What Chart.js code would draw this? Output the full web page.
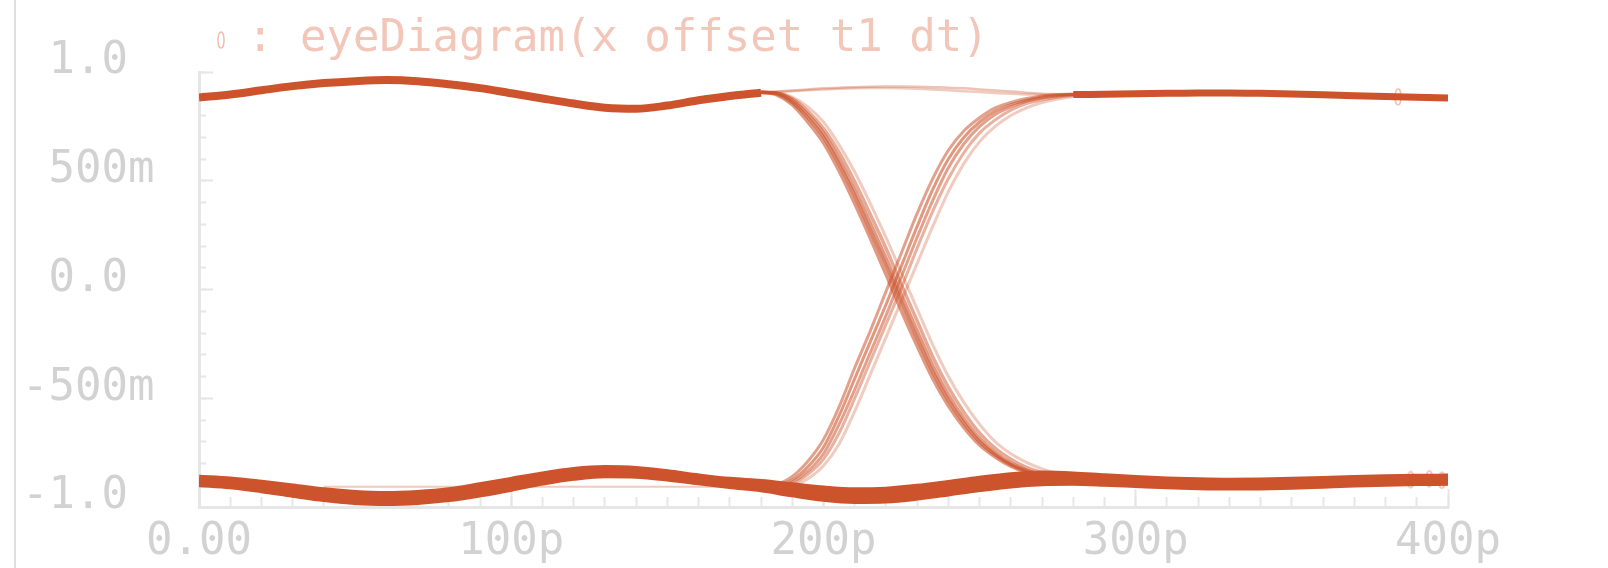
<!DOCTYPE html>
<html>
<head>
<meta charset="utf-8">
<script src="https://cdn.jsdelivr.net/npm/chart.js@4.4.1/dist/chart.umd.min.js"></script>
<style>
  html, body { margin: 0; padding: 0; background: #ffffff; }
  #wrap { position: relative; width: 1608px; height: 568px; overflow: hidden; }
  #frame { position: absolute; left: 14px; top: 0; width: 2px; height: 568px; background: #dedede; }
  #eye { position: absolute; left: 0; top: 0; }
</style>
</head>
<body>
<div id="wrap"><div id="frame"></div><canvas id="eye" width="1608" height="568"></canvas></div>
<script>
// ---- time bases (ps) ----
const bandTimes = [0,10,20,30,40,50,60,70,80,90,100,110,120,130,140,150,160,170,180,190,200,
                   210,220,230,240,250,260,270,280,290,300,310,320,330,340,350,360,370,380,390,400];
const leadTimes = [0,10,20,30,40,50,60,70,80,90,100,110,120,130,140,150,160,170,180];
const edgeTimes = [180,185,190,195,200,205,210,215,220,225,230,235,240,245,250,255,260,265,270,275,280,285,290];
const tailTimes = [280,290,300,310,320,330,340,350,360,370,380,390,400];
const flatTimes = [40, 200];
const markerTimes = [384, 388, 394, 398];

// ---- high level before / after the crossing (V) ----
const highLead = [0.883,0.897,0.916,0.935,0.949,0.958,0.963,0.958,0.944,0.926,0.902,0.878,0.855,0.836,0.831,0.846,0.87,0.89,0.905];
const highTail = [0.896,0.898,0.9,0.902,0.904,0.904,0.902,0.899,0.895,0.891,0.887,0.884,0.881];

// ---- low level band, upper and lower edge (V) ----
const lowUpper = [-0.872,-0.88,-0.895,-0.912,-0.93,-0.942,-0.947,-0.942,-0.93,-0.907,-0.882,-0.857,-0.837,-0.828,-0.832,-0.847,-0.866,-0.882,-0.892,-0.907,-0.922,
                  -0.93,-0.927,-0.914,-0.896,-0.877,-0.861,-0.853,-0.857,-0.866,-0.874,-0.88,-0.884,-0.886,-0.885,-0.882,-0.878,-0.874,-0.87,-0.868,-0.867];
const lowLower = [-0.888,-0.898,-0.916,-0.937,-0.957,-0.97,-0.975,-0.97,-0.957,-0.935,-0.909,-0.881,-0.859,-0.847,-0.849,-0.862,-0.88,-0.897,-0.912,-0.935,-0.955,
                  -0.965,-0.963,-0.95,-0.931,-0.911,-0.894,-0.884,-0.882,-0.886,-0.892,-0.898,-0.902,-0.904,-0.903,-0.9,-0.895,-0.89,-0.886,-0.883,-0.882];
const lowFlat = [-0.907, -0.907];

// ---- rising edges (V) ----
const rise1 = [-0.9,-0.895,-0.86,-0.79,-0.69,-0.54,-0.36,-0.19,-0.01,0.17,0.35,0.51,0.64,0.73,0.79,0.835,0.86,0.878,0.89,0.896,0.899,0.9,0.9];
const rise2 = [-0.9,-0.9,-0.875,-0.815,-0.725,-0.58,-0.41,-0.24,-0.07,0.11,0.29,0.46,0.6,0.7,0.77,0.82,0.85,0.87,0.885,0.893,0.897,0.899,0.9];
const rise3 = [-0.9,-0.905,-0.885,-0.835,-0.755,-0.62,-0.46,-0.29,-0.12,0.06,0.24,0.41,0.56,0.67,0.75,0.805,0.84,0.865,0.88,0.89,0.896,0.899,0.9];
const rise4 = [-0.905,-0.91,-0.895,-0.85,-0.78,-0.66,-0.5,-0.33,-0.16,0.01,0.19,0.36,0.51,0.63,0.72,0.78,0.825,0.855,0.872,0.884,0.892,0.897,0.9];
const rise5 = [-0.91,-0.915,-0.905,-0.87,-0.81,-0.71,-0.56,-0.39,-0.22,-0.05,0.12,0.29,0.45,0.58,0.68,0.75,0.8,0.835,0.86,0.876,0.887,0.894,0.898];

// ---- falling edges (V) ----
const fall1 = [0.907,0.895,0.85,0.77,0.675,0.545,0.395,0.235,0.07,-0.1,-0.26,-0.41,-0.535,-0.635,-0.715,-0.77,-0.812,-0.84,-0.856,-0.867,-0.873,-0.876,-0.878];
const fall2 = [0.907,0.9,0.86,0.79,0.7,0.575,0.43,0.27,0.11,-0.06,-0.225,-0.38,-0.51,-0.615,-0.7,-0.76,-0.805,-0.835,-0.853,-0.865,-0.872,-0.876,-0.878];
const fall3 = [0.907,0.902,0.87,0.805,0.72,0.6,0.46,0.305,0.145,-0.025,-0.19,-0.35,-0.485,-0.595,-0.685,-0.75,-0.798,-0.83,-0.85,-0.862,-0.87,-0.875,-0.878];
const fall4 = [0.907,0.904,0.877,0.82,0.74,0.63,0.495,0.345,0.19,0.02,-0.145,-0.31,-0.45,-0.565,-0.66,-0.73,-0.78,-0.818,-0.842,-0.857,-0.866,-0.872,-0.876];
const fall5 = [0.907,0.905,0.885,0.84,0.77,0.665,0.54,0.395,0.24,0.075,-0.09,-0.255,-0.4,-0.52,-0.62,-0.7,-0.755,-0.795,-0.825,-0.845,-0.858,-0.866,-0.872];

// ---- high bits that stay high across the crossing (V) ----
const hold1 = [0.905,0.91,0.915,0.92,0.925,0.928,0.93,0.932,0.933,0.933,0.932,0.93,0.928,0.925,0.92,0.915,0.91,0.905,0.9,0.898,0.896,0.895,0.895];
const hold2 = [0.905,0.908,0.912,0.916,0.92,0.923,0.925,0.926,0.926,0.925,0.923,0.92,0.916,0.912,0.908,0.903,0.9,0.897,0.895,0.894,0.894,0.894,0.895];

// ---- trace symbols near the end of the window (V) ----
const markerValues = [0.886, -0.874, -0.87, -0.877];

// ---- axis labels ----
const xTickLabels = ['0.00', '100p', '200p', '300p', '400p'];
const yTickLabels = ['-1.0', '-500m', ' 0.0', ' 500m', ' 1.0'];
const legendText = ': eyeDiagram(x offset t1 dt)';

const FONT = "'DejaVu Sans Mono', 'Liberation Mono', monospace";
const TRACE = 'rgb(204,83,44)';
const traceA = a => `rgba(204,83,44,${a})`;
const AXIS_GREY = '#e6e6e6';
const LABEL_GREY = '#d2d2d2';
const LEGEND_PINK = '#f2c6b9';

// small oval symbol used for the trace marker
const markerImg = document.createElement('canvas');
markerImg.width = 10; markerImg.height = 20;
(() => {
  const m = markerImg.getContext('2d');
  m.strokeStyle = '#efbcad';
  m.lineWidth = 1.4;
  m.beginPath();
  m.ellipse(5, 10, 3, 8, 0, 0, Math.PI * 2);
  m.stroke();
})();

const pts = (times, vals) => vals.map((v, i) => ({ x: times[i], y: v }));
const line = (times, vals, color, width) => ({
  data: pts(times, vals),
  borderColor: color,
  borderWidth: width,
  pointRadius: 0,
  cubicInterpolationMode: 'monotone',
  fill: false,
  borderCapStyle: 'butt',
  borderJoinStyle: 'round'
});

const datasets = [
  Object.assign(line(leadTimes, highLead, TRACE, 8), { label: 'eyeDiagram(x offset t1 dt)' }),
  line(tailTimes, highTail, TRACE, 7),
  line(bandTimes, lowUpper, TRACE, 9),
  line(bandTimes, lowLower, TRACE, 9),
  line(flatTimes, lowFlat, traceA(0.3), 2),
  line(edgeTimes, hold1, traceA(0.35), 2.5),
  line(edgeTimes, hold2, traceA(0.3), 2.5),
  line(edgeTimes, rise1, traceA(0.55), 3),
  line(edgeTimes, rise2, traceA(0.6), 3),
  line(edgeTimes, rise3, traceA(0.55), 3),
  line(edgeTimes, rise4, traceA(0.45), 3),
  line(edgeTimes, rise5, traceA(0.3), 3),
  line(edgeTimes, fall1, traceA(0.6), 3.5),
  line(edgeTimes, fall2, traceA(0.7), 3.5),
  line(edgeTimes, fall3, traceA(0.6), 3.5),
  line(edgeTimes, fall4, traceA(0.5), 3.5),
  line(edgeTimes, fall5, traceA(0.3), 3),
  {
    data: pts(markerTimes, markerValues),
    showLine: false,
    pointStyle: markerImg,
    pointRadius: 6,
    borderWidth: 0
  }
];

// move the legend entry over the plot's left edge
const legendShift = {
  id: 'legendShift',
  afterLayout(chart) {
    if (chart.legend) chart.legend.left = 199;
  }
};

new Chart(document.getElementById('eye'), {
  type: 'line',
  data: { datasets },
  plugins: [legendShift],
  options: {
    responsive: false,
    animation: false,
    events: [],
    layout: { padding: { left: 22, right: 160, top: 0, bottom: 0 } },
    plugins: {
      tooltip: { enabled: false },
      legend: {
        display: true,
        position: 'top',
        align: 'start',
        labels: {
          usePointStyle: true,
          pointStyleWidth: 8,
          padding: 18,
          color: LEGEND_PINK,
          font: { family: FONT, size: 44 },
          generateLabels: () => [{
            text: legendText,
            pointStyle: markerImg,
            fontColor: LEGEND_PINK,
            fillStyle: 'rgba(0,0,0,0)',
            strokeStyle: 'rgba(0,0,0,0)',
            lineWidth: 0,
            hidden: false,
            datasetIndex: 0
          }]
        }
      }
    },
    scales: {
      x: {
        type: 'linear', position: 'bottom', weight: 1,
        min: 0, max: 400,
        afterFit: s => { s.height = 61; },
        ticks: {
          stepSize: 100, autoSkip: false, maxRotation: 0, padding: 27,
          color: LABEL_GREY, font: { family: FONT, size: 44 },
          callback: v => xTickLabels[Math.round(v / 100)]
        },
        grid: { drawOnChartArea: false, tickLength: -18, tickColor: AXIS_GREY, tickWidth: 2 },
        border: { display: true, color: AXIS_GREY, width: 3 }
      },
      xMinor: {
        type: 'linear', position: 'bottom', weight: 0,
        min: 0, max: 400,
        afterFit: s => { s.height = 0; },
        ticks: { stepSize: 10, display: false },
        grid: { drawOnChartArea: false, tickLength: -10, tickColor: AXIS_GREY, tickWidth: 2 },
        border: { display: false }
      },
      y: {
        type: 'linear', position: 'left', weight: 1,
        min: -1, max: 1,
        afterFit: s => { s.width = 177; },
        ticks: {
          stepSize: 0.5, crossAlign: 'far', labelOffset: -10,
          color: LABEL_GREY, font: { family: FONT, size: 44 },
          callback: v => yTickLabels[Math.round(v * 2) + 2]
        },
        grid: { drawOnChartArea: false, tickLength: -14, tickColor: AXIS_GREY, tickWidth: 2 },
        border: { display: true, color: AXIS_GREY, width: 3 }
      },
      yMinor: {
        type: 'linear', position: 'left', weight: 0,
        min: -1, max: 1,
        afterFit: s => { s.width = 0; },
        ticks: { stepSize: 0.1, display: false },
        grid: { drawOnChartArea: false, tickLength: -7, tickColor: AXIS_GREY, tickWidth: 2 },
        border: { display: false }
      }
    }
  }
});
</script>
</body>
</html>
